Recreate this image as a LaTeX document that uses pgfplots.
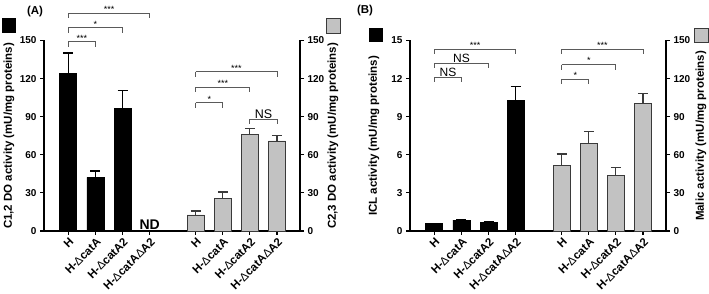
\documentclass[border=0pt]{standalone}
\usepackage{fontspec}
\setmainfont{Liberation Sans}
\usepackage{pgfplots}
\usepackage{pgfplotstable}
\pgfplotsset{compat=1.18}
\definecolor{barg}{HTML}{C2C2C2}
\definecolor{bord}{HTML}{3A3A3A}
\definecolor{brk}{HTML}{5A5A5A}
\newcommand\D{{\mdseries Δ}}
% bracket: x1, x2, y, xmid, label, font
\newcommand\brk[6]{%
  \draw[brk, line width=0.8pt] (axis cs:#1,#3) -- ++(0pt,-5pt);
  \draw[brk, line width=0.8pt] (axis cs:#1,#3) -- (axis cs:#2,#3) -- ++(0pt,-5pt);
  \node[anchor=south, inner sep=0.5pt, font=#6] at (axis cs:#4,#3) {#5};}
\pgfplotstableread{
x y e
0 124.2 16
1 42.3 5
2 96.6 14
}\Ablack
\pgfplotstableread{
x y e
4.7 12.6 3.1
5.7 25.4 5.3
6.7 76.1 4.8
7.7 70.9 4.2
}\Agray
\pgfplotstableread{
x y e
0 0.58 0.04
1 0.85 0.05
2 0.68 0.03
3 10.25 1.13
}\Bblack
\pgfplotstableread{
x y e
4.7 51.4 9.2
5.7 68.7 9.8
6.7 43.9 5.9
7.7 100.5 7.9
}\Bgray
\begin{document}
\begin{tikzpicture}
\useasboundingbox (0pt,0pt) rectangle (709pt,294pt);
\pgfplotsset{
  base/.style={
    scale only axis, width=256pt, height=190.5pt,
    xmin=-0.9, xmax=8.55, ymin=0,
    ybar, bar width=17pt,
    axis line style={line width=1.6pt, -},
    tick style={line width=1.2pt, black},
    major tick length=4pt,
    tick align=outside,
    tick label style={font=\bfseries\fontsize{10}{12}\selectfont},
    /pgf/number format/assume math mode=true,
    clip=false,
  },
  leftax/.style={base, axis y line*=left, axis x line*=bottom,
    xtick={0,1,2,3,4.7,5.7,6.7,7.7},
    xticklabels={H, H-\D catA, H-\D catA2, H-\D catA\D A2, H, H-\D catA, H-\D catA2, H-\D catA\D A2},
    xticklabel style={font=\bfseries\fontsize{11.5}{13}\selectfont, rotate=45, anchor=east, xshift=2pt, yshift=-6pt},
  },
  rightax/.style={base, axis y line*=right, axis x line=none, xtick=\empty},
  blk/.style={fill=black, draw=black, line width=0.8pt,
    error bars/.cd, y dir=plus, y explicit,
    error bar style={line width=1.2pt, black},
    error mark options={rotate=90, line width=1.2pt, mark size=5pt, black}},
  gry/.style={fill=barg, draw=bord, line width=0.8pt,
    error bars/.cd, y dir=plus, y explicit,
    error bar style={line width=1.2pt, bord},
    error mark options={rotate=90, line width=1.2pt, mark size=5pt, bord}},
}
% ---------- Panel A ----------
\begin{axis}[leftax, at={(44pt,63pt)}, anchor=south west, ymax=150, ytick={0,30,...,150}]
\addplot[blk] table[x=x, y=y, y error=e] {\Ablack};
\node[anchor=south, inner sep=1pt, font=\bfseries\fontsize{14}{16}\selectfont] at (axis cs:3,0) {ND};
\brk{0}{3}{171.6}{1.5}{***}{\fontsize{9}{10}\selectfont}
\brk{0}{2}{160}{1}{*}{\fontsize{9}{10}\selectfont}
\brk{0}{1}{149}{0.5}{***}{\fontsize{9}{10}\selectfont}
\end{axis}
\begin{axis}[rightax, at={(44pt,63pt)}, anchor=south west, ymax=150, ytick={0,30,...,150}]
\addplot[gry] table[x=x, y=y, y error=e] {\Agray};
\brk{4.7}{7.7}{125.4}{6.2}{***}{\fontsize{9}{10}\selectfont}
\brk{4.7}{6.7}{113}{5.7}{***}{\fontsize{9}{10}\selectfont}
\brk{4.7}{5.7}{101}{5.2}{*}{\fontsize{9}{10}\selectfont}
\brk{6.7}{7.7}{88}{7.2}{NS}{\fontsize{12.5}{14}\selectfont}
\end{axis}
% ---------- Panel B ----------
\begin{axis}[leftax, at={(410pt,63pt)}, anchor=south west, ymax=15, ytick={0,3,...,15}]
\addplot[blk] table[x=x, y=y, y error=e] {\Bblack};
\brk{0}{3}{14.3}{1.5}{***}{\fontsize{9}{10}\selectfont}
\brk{0}{2}{13.2}{1}{NS}{\fontsize{12}{14}\selectfont}
\brk{0}{1}{12.1}{0.5}{NS}{\fontsize{12}{14}\selectfont}
\end{axis}
\begin{axis}[rightax, at={(410pt,63pt)}, anchor=south west, ymax=150, ytick={0,30,...,150}]
\addplot[gry] table[x=x, y=y, y error=e] {\Bgray};
\brk{4.7}{7.7}{143}{6.2}{***}{\fontsize{9}{10}\selectfont}
\brk{4.7}{6.7}{131}{5.7}{*}{\fontsize{9}{10}\selectfont}
\brk{4.7}{5.7}{119.7}{5.2}{*}{\fontsize{9}{10}\selectfont}
\end{axis}
% ---------- labels, legend squares, titles ----------
\begin{scope}[every node/.style={font=\bfseries\fontsize{11.5}{13}\selectfont}]
\node[rotate=90] at (9pt,158pt) {C1,2 DO activity (mU/mg proteins)};
\node[rotate=90] at (333pt,158pt) {C2,3 DO activity (mU/mg proteins)};
\node[rotate=90] at (374pt,158pt) {ICL activity (mU/mg proteins)};
\node[rotate=90] at (701pt,158pt) {Malic activity (mU/mg proteins)};
\node at (35pt,282pt) {(A)};
\node at (365pt,283pt) {(B)};
\end{scope}
\fill[black] (2pt,261pt) rectangle (16pt,276pt);
\filldraw[fill=barg, draw=bord, line width=0.8pt] (326pt,261pt) rectangle (340pt,276pt);
\fill[black] (369pt,252pt) rectangle (383pt,266pt);
\filldraw[fill=barg, draw=bord, line width=0.8pt] (694pt,252pt) rectangle (708pt,266pt);
\end{tikzpicture}
\end{document}
